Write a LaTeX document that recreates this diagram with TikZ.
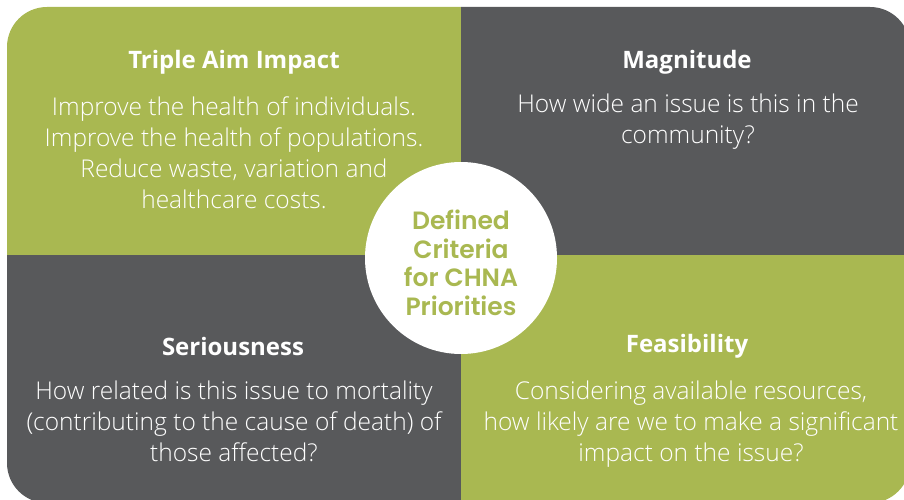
\documentclass[tikz,border=0pt]{standalone}
\usepackage{fontspec}
\setmainfont{Open Sans}
\newfontfamily\lightfont{Open Sans}[UprightFont=* Light]
\newfontfamily\hubfont{Poppins}[UprightFont=* SemiBold]
\usetikzlibrary{positioning}
\definecolor{aimgreen}{HTML}{A9B851}
\definecolor{aimgray}{HTML}{58595B}
\tikzset{
  head/.style = {text=white, font=\bfseries\fontsize{24}{28}\selectfont},
  body/.style = {text=white, font=\lightfont\fontsize{24.5}{31}\selectfont, align=center},
  hub/.style  = {circle, fill=white, minimum size=192pt, inner sep=0pt, text=aimgreen,
                 font=\hubfont\fontsize{25}{28.5}\selectfont, align=center},
}

\begin{document}
\begin{tikzpicture}[x=1pt,y=-1pt]
  \useasboundingbox (0,0) rectangle (904,500);
  \begin{scope}
    \clip[rounded corners=40pt] (7,7) rectangle (910,503);
    \fill[aimgreen] (0,0) rectangle (461,255);
    \fill[aimgray] (461,0) rectangle (910,255);
    \fill[aimgray] (0,255) rectangle (461,510);
    \fill[aimgreen] (461,255) rectangle (910,510);
  \end{scope}
  % quadrant texts
  \node[head] (aimHead) at (234,62) {Triple Aim Impact};
  \node[body] (aimBody) at (234,153) {Improve the health of individuals.\\Improve the health of populations.\\Reduce waste, variation and\\healthcare costs.};
  \node[head] (magHead) at (687,62) {Magnitude};
  \node[body] (magBody) at (688,122) {How wide an issue is this in the\\community?};
  \node[head] (serHead) at (233,346) {Seriousness};
  \node[body] (serBody) at (234,421) {How related is this issue to mortality\\(contributing to the cause of death) of\\those affected?};
  \node[head] (feaHead) at (687,346) {Feasibility};
  \node[body] (feaBody) at (691,424) {Considering available resources,\\how likely are we to make a significant\\impact on the issue?};
  % centre
  \node[hub] (criteria) at (461,258) {};
  \node[text=aimgreen, font=\hubfont\fontsize{25}{28.5}\selectfont, align=center] (criteriaText) at (461,263) {Defined\\Criteria\\for CHNA\\Priorities};
\end{tikzpicture}
\end{document}
